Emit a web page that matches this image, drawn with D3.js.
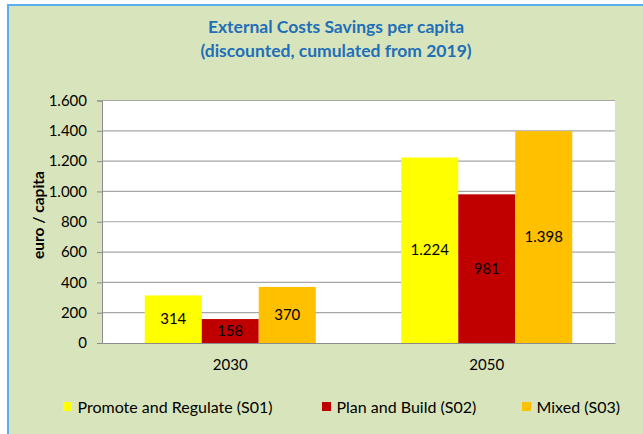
<!DOCTYPE html>
<html><head><meta charset="utf-8">
<script src="https://cdn.jsdelivr.net/npm/d3@7"></script>
<style>html,body{margin:0;padding:0;background:#fff}svg{display:block}</style>
</head><body>
<script>
const categories = ["2030", "2050"];
const seriesNames = ["Promote and Regulate (S01)", "Plan and Build (S02)", "Mixed (S03)"];
const s01 = [314, 1224];
const s02 = [158, 981];
const s03 = [370, 1398];
const yTicks = [0, 200, 400, 600, 800, 1000, 1200, 1400, 1600];
const colors = ["#ffff00", "#c00000", "#ffc000"];
const series = [s01, s02, s03];

const W = 643, H = 434;
const font = "Lato, 'Open Sans', sans-serif";
const fmt = v => d3.format(",")(v).replace(/,/g, ".");

const svg = d3.select("body").append("svg").attr("width", W).attr("height", H);
svg.append("rect").attr("x", 0).attr("y", 0).attr("width", W).attr("height", H).attr("fill", "#fff");
svg.append("rect").attr("x", 9).attr("y", 6).attr("width", W - 9).attr("height", H - 6).attr("fill", "#d8e4bc");
svg.append("line").attr("x1", 8).attr("x2", 8).attr("y1", 4).attr("y2", H).attr("stroke", "#5aaef0").attr("stroke-width", 2);
svg.append("line").attr("x1", 8).attr("x2", W).attr("y1", 5).attr("y2", 5).attr("stroke", "#5aaef0").attr("stroke-width", 2);

const plot = {l: 102, r: 615, t: 100.5, b: 343};
svg.append("rect").attr("x", plot.l).attr("y", plot.t).attr("width", plot.r - plot.l).attr("height", plot.b - plot.t).attr("fill", "#fff");

const y = d3.scaleLinear().domain([0, 1600]).range([plot.b, plot.t]);
const x0 = d3.scaleBand().domain(categories).range([plot.l, plot.r]).paddingInner(0).paddingOuter(0);
const barW = x0.bandwidth() / 4.5;
const x1 = d3.scaleBand().domain(d3.range(3)).range([0, barW * 3]);

// gridlines
svg.append("g").selectAll("line").data(yTicks.filter(d => d > 0)).join("line")
  .attr("x1", plot.l).attr("x2", plot.r).attr("y1", d => y(d)).attr("y2", d => y(d))
  .attr("stroke", "#a6a6a6").attr("stroke-width", 1.2);

// y axis
const yAxis = svg.append("g").attr("transform", `translate(${plot.l},0)`)
  .call(d3.axisLeft(y).tickValues(yTicks).tickSize(5).tickPadding(10).tickFormat(fmt));
yAxis.select(".domain").attr("stroke", "#8c8c8c");
yAxis.selectAll(".tick line").attr("stroke", "#8c8c8c");
yAxis.selectAll("text").attr("font-family", font).attr("font-size", 15).attr("fill", "#000");

// bars
const g = svg.append("g");
categories.forEach((c, ci) => {
  const gx = x0(c) + (x0.bandwidth() - barW * 3) / 2;
  series.forEach((s, si) => {
    g.append("rect").attr("x", gx + x1(si)).attr("y", y(s[ci])).attr("width", x1.bandwidth())
      .attr("height", y(0) - y(s[ci])).attr("fill", colors[si]);
    g.append("text").attr("x", gx + x1(si) + x1.bandwidth() / 2).attr("y", (y(0) + y(s[ci])) / 2)
      .attr("dy", "0.35em").attr("text-anchor", "middle").attr("font-family", font).attr("font-size", 15)
      .attr("fill", "#000").text(fmt(s[ci]));
  });
});

// x axis
const xAxis = svg.append("g").attr("transform", `translate(0,${plot.b})`)
  .call(d3.axisBottom(x0).tickSize(0).tickPadding(16));
xAxis.select(".domain").attr("stroke", "#8c8c8c");
xAxis.selectAll("text").attr("font-family", font).attr("font-size", 15).attr("fill", "#000");

// title
const title = svg.append("text").attr("text-anchor", "middle").attr("font-family", font)
  .attr("font-weight", "bold").attr("font-size", 17.5).attr("fill", "#1f6fb8");
title.append("tspan").attr("x", 336).attr("y", 33).text("External Costs Savings per capita");
title.append("tspan").attr("x", 336).attr("y", 57).text("(discounted, cumulated from 2019)");

// y title
svg.append("text").attr("transform", `translate(44,215) rotate(-90)`)
  .attr("text-anchor", "middle").attr("font-family", font).attr("font-weight", "bold")
  .attr("font-size", 15.5).attr("fill", "#000").text("euro / capita");

// legend
const legX = [63, 322, 522];
const leg = svg.append("g");
seriesNames.forEach((n, i) => {
  leg.append("rect").attr("x", legX[i]).attr("y", 402).attr("width", 9).attr("height", 9).attr("fill", colors[i]);
  leg.append("text").attr("x", legX[i] + 14.5).attr("y", 412.5).attr("font-family", font)
    .attr("font-size", 16).attr("fill", "#000").text(n);
});
</script>
</body></html>
